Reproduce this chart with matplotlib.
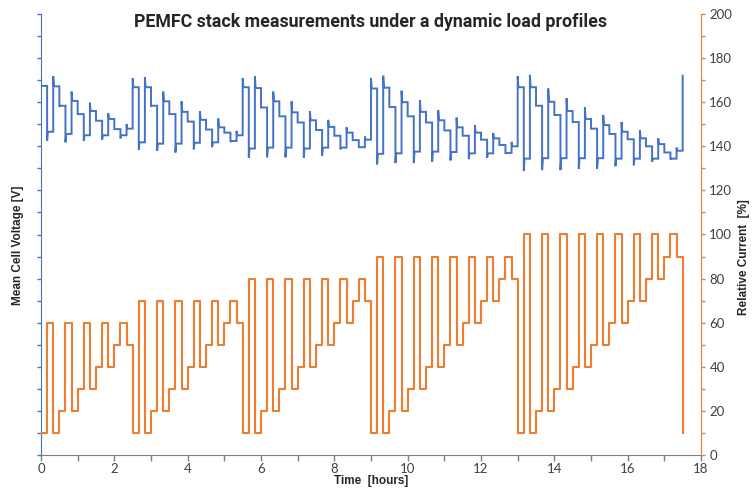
import numpy as np
import matplotlib
matplotlib.use("Agg")
import matplotlib.pyplot as plt
from matplotlib.ticker import MultipleLocator, NullFormatter

# ---------------- data ----------------
step_hours = 1.0 / 6.0          # each load level held for 10 minutes

# relative current [%] per step (last value = final drop at end of test)
current_pct = [
    10, 60, 10, 20, 60, 20, 30, 60, 30, 40, 60, 40, 50, 60, 50,
    10, 70, 10, 20, 70, 20, 30, 70, 30, 40, 70, 40, 50, 70, 50, 60, 70, 60,
    10, 80, 10, 20, 80, 20, 30, 80, 30, 40, 80, 40, 50, 80, 50, 60, 80, 60, 70, 80, 70,
    10, 90, 10, 20, 90, 20, 30, 90, 30, 40, 90, 40, 50, 90, 50, 60, 90, 60, 70, 90, 70, 80, 90, 80,
    10, 100, 10, 20, 100, 20, 30, 100, 30, 40, 100, 40, 50, 100, 50, 60, 100, 60, 70, 100, 70,
    80, 100, 80, 90, 100, 90,
    10,
]

# mean cell voltage [V]: transient value right after each load change
volt_transient = [
    0.837, 0.712, 0.859, 0.790, 0.709, 0.824, 0.773, 0.712, 0.799, 0.758, 0.715, 0.775, 0.739, 0.718, 0.750,
    0.854, 0.692, 0.856, 0.790, 0.690, 0.824, 0.773, 0.686, 0.802, 0.756, 0.693, 0.780, 0.738, 0.698, 0.763,
    0.731, 0.710, 0.735,
    0.854, 0.674, 0.859, 0.788, 0.675, 0.824, 0.768, 0.675, 0.802, 0.754, 0.674, 0.780, 0.737, 0.678, 0.760,
    0.724, 0.693, 0.743, 0.714, 0.697, 0.722,
    0.855, 0.659, 0.860, 0.789, 0.662, 0.826, 0.768, 0.662, 0.804, 0.754, 0.665, 0.782, 0.736, 0.668, 0.765,
    0.724, 0.671, 0.748, 0.715, 0.674, 0.730, 0.703, 0.683, 0.710,
    0.859, 0.644, 0.862, 0.792, 0.646, 0.831, 0.771, 0.646, 0.809, 0.755, 0.649, 0.788, 0.740, 0.649, 0.771,
    0.728, 0.655, 0.755, 0.716, 0.657, 0.737, 0.700, 0.665, 0.718, 0.686, 0.670, 0.697,
    0.860,
]

# mean cell voltage [V]: settled value during each step
volt_settled = [
    0.837, 0.733, 0.836, 0.792, 0.728, 0.803, 0.773, 0.725, 0.780, 0.758, 0.725, 0.762, 0.739, 0.725, 0.740,
    0.834, 0.709, 0.834, 0.792, 0.706, 0.802, 0.773, 0.706, 0.778, 0.756, 0.708, 0.760, 0.738, 0.709, 0.743,
    0.731, 0.712, 0.725,
    0.834, 0.695, 0.832, 0.788, 0.697, 0.802, 0.768, 0.697, 0.777, 0.754, 0.695, 0.759, 0.737, 0.697, 0.744,
    0.724, 0.697, 0.731, 0.714, 0.698, 0.715,
    0.831, 0.683, 0.833, 0.789, 0.684, 0.800, 0.768, 0.688, 0.778, 0.754, 0.688, 0.759, 0.736, 0.687, 0.743,
    0.724, 0.684, 0.731, 0.715, 0.684, 0.718, 0.703, 0.685, 0.700,
    0.834, 0.672, 0.834, 0.792, 0.673, 0.801, 0.771, 0.673, 0.780, 0.755, 0.673, 0.762, 0.740, 0.673, 0.748,
    0.728, 0.672, 0.733, 0.716, 0.672, 0.718, 0.700, 0.672, 0.705, 0.686, 0.672, 0.690,
    0.860,
]

x_ticks = [0, 2, 4, 6, 8, 10, 12, 14, 16, 18]
current_ticks = [0, 20, 40, 60, 80, 100, 120, 140, 160, 180, 200]

# ---------------- build series ----------------
n = len(current_pct)
t = np.arange(n) * step_hours
transient_dur = 0.02

tv, vv = [], []
for i in range(n):
    tv.append(t[i]); vv.append(volt_transient[i])
    if i < n - 1:
        tv.append(t[i] + transient_dur); vv.append(volt_settled[i])
        tv.append(t[i + 1]); vv.append(volt_settled[i])

BLUE = "#4472C4"
ORANGE = "#ED7D31"
TXT = "#404040"
GRAY = "#7F7F7F"
tick_font = ["Lato", "DejaVu Sans"]
label_font = ["Liberation Sans", "DejaVu Sans"]

fig = plt.figure(figsize=(7.52, 4.88), dpi=100)
ax = fig.add_axes([41 / 752, 33 / 488, 660 / 752, 441 / 488])
ax2 = ax.twinx()

ax.plot(tv, vv, color=BLUE, lw=1.4, solid_joinstyle="miter")
ax2.plot(t, current_pct, color=ORANGE, lw=1.5, drawstyle="steps-post")

ax.set_xlim(0, 18)
ax.set_ylim(0, 1.0)
ax2.set_ylim(0, 200)

# left axis: ticks only
ax.yaxis.set_major_locator(MultipleLocator(0.05))
ax.yaxis.set_major_formatter(NullFormatter())
ax.tick_params(axis="y", colors=BLUE, length=3, width=1, direction="out")

# x axis
ax.set_xticks(x_ticks)
ax.xaxis.set_minor_locator(MultipleLocator(1))
ax.tick_params(axis="x", which="both", colors=GRAY, length=4, width=1, direction="out", pad=1.5)
ax.tick_params(axis="x", labelcolor=TXT, labelsize=9.5)
for lab in ax.get_xticklabels():
    lab.set_family(tick_font)

# right axis
ax2.set_yticks(current_ticks)
ax2.yaxis.set_minor_locator(MultipleLocator(10))
ax2.tick_params(axis="y", which="both", colors=ORANGE, length=3, width=1, direction="out", pad=3)
ax2.tick_params(axis="y", labelcolor=TXT, labelsize=9.5)
for lab in ax2.get_yticklabels():
    lab.set_family(tick_font)

for sp in ["top", "right"]:
    ax.spines[sp].set_visible(False)
for sp in ["top", "left", "bottom"]:
    ax2.spines[sp].set_visible(False)
ax.spines["left"].set_color(BLUE)
ax.spines["bottom"].set_color(GRAY)
ax2.spines["right"].set_color(ORANGE)

fig.text(371 / 752, 1 - 22 / 488, "PEMFC stack measurements under a dynamic load profiles",
         ha="center", va="center", fontsize=12.8, fontweight="bold", color="#262626",
         family=["Roboto", "DejaVu Sans"])
fig.text(18 / 752, 1 - 245 / 488, "Mean Cell Voltage [V]", rotation=90, ha="center", va="center",
         fontsize=8.5, fontweight="bold", color="#262626", family=label_font)
fig.text(744 / 752, 1 - 257 / 488, "Relative Current  [%]", rotation=90, ha="center", va="center",
         fontsize=8.5, fontweight="bold", color="#262626", family=label_font)
fig.text(371 / 752, 1 - 481 / 488, "Time  [hours]", ha="center", va="center",
         fontsize=8.5, fontweight="bold", color="#262626", family=label_font)

fig.savefig("out.png", dpi=100)
